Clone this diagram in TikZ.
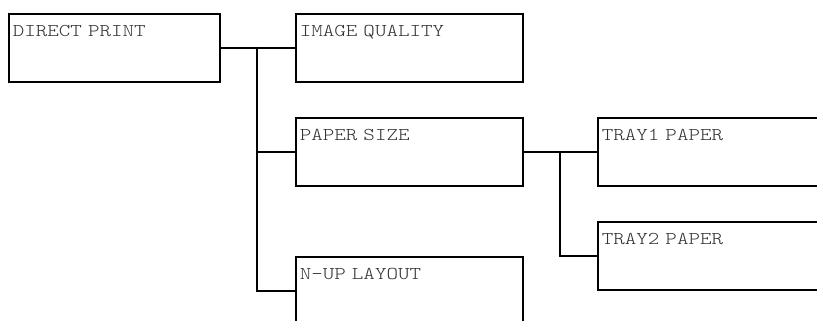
\documentclass[tikz,border=0pt]{standalone}
\usepackage{fontspec}
\setmonofont{Latin Modern Mono Light}[FakeStretch=1.22]
\newcommand{\menuboxfont}{\ttfamily\fontsize{18}{20}\selectfont\spaceskip=11.5pt plus 0pt minus 0pt\relax}
\begin{document}
\begin{tikzpicture}[x=1pt,y=-1pt, line width=1.7pt,
  menubox/.style={draw=black, line width=1.7pt, rectangle, anchor=north west,
    inner xsep=4pt, inner ysep=0pt, align=left,
    text width=#1-8pt, minimum width=#1,
    text height=23pt, text depth=45pt,
    font=\menuboxfont, text=black!80},
  menubox/.default=227pt,
  link/.style={draw=black, line width=1.7pt}]
\useasboundingbox (0,0) rectangle (817,321);
\clip (0,0) rectangle (817,321);
\node[menubox=211pt] (dp) at (8,13) {DIRECT PRINT};
\node[menubox] (iq) at (295,13) {IMAGE QUALITY};
\node[menubox] (ps) at (295,117) {PAPER SIZE};
\node[menubox] (nu) at (295,256) {N-UP LAYOUT};
\node[menubox] (t1) at (597,117) {TRAY1 PAPER};
\node[menubox] (t2) at (597,221) {TRAY2 PAPER};
\coordinate (j1) at (257,47);
\coordinate (j2) at (560,151);
\draw[link] (dp.east) -- (iq.west);
\draw[link] (j1) |- (ps.west);
\draw[link] (j1) |- (nu.west);
\draw[link] (ps.east) -- (t1.west);
\draw[link] (j2) |- (t2.west);
\end{tikzpicture}
\end{document}
